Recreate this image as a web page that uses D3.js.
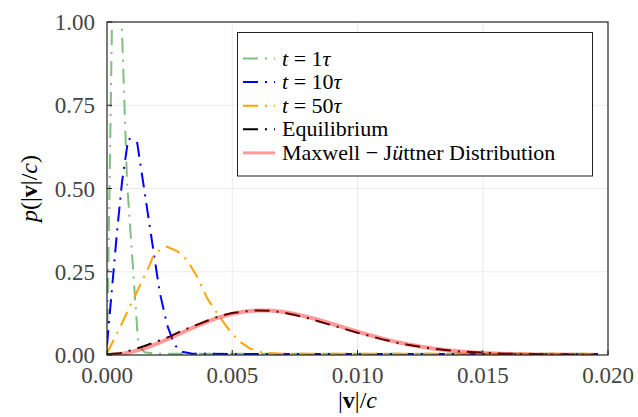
<!DOCTYPE html>
<meta charset="utf-8">
<style>
body { margin: 0; background: #fff; }
.tick-label { fill: #444; font-size: 23px; }
.grid { stroke: #ebebeb; stroke-width: 1; }
</style>
<body>
<script src="https://d3js.org/d3.v7.min.js"></script>
<script>

// ---- data ----
var xTicks = [0, 0.005, 0.010, 0.015, 0.020];
var yTicks = [0, 0.25, 0.50, 0.75, 1.00];

// t = 1 tau
var vGreen = [0, 0.0003, 0.0006, 0.0008, 0.00125, 0.0015, 0.002, 0.004, 0.006, 0.008, 0.010, 0.012, 0.014, 0.016, 0.018, 0.0196];
var pGreen = [0, 1.5, 0.97, 0.52, 0.03, 0.008, 0.004, 0.004, 0.004, 0.004, 0.004, 0.004, 0.004, 0.004, 0.004, 0.004];

// t = 10 tau
var vBlue = [0, 0.0004, 0.0006, 0.00085, 0.0012, 0.0015, 0.0018, 0.0021, 0.0024, 0.0027, 0.003, 0.0034, 0.005, 0.007, 0.009, 0.011, 0.013, 0.015, 0.017, 0.0196];
var pBlue = [0.03, 0.37, 0.52, 0.65, 0.64, 0.49, 0.34, 0.19, 0.09, 0.03, 0.01, 0.004, 0.003, 0.003, 0.003, 0.003, 0.003, 0.003, 0.003, 0.003];

// t = 50 tau
var vOrange = [0, 0.0005, 0.0011, 0.0017, 0.0019, 0.0024, 0.0028, 0.0032, 0.0036, 0.004, 0.0044, 0.0049, 0.0053, 0.0057, 0.0062, 0.007, 0.009, 0.011, 0.013, 0.015, 0.017, 0.0196];
var pOrange = [0.005, 0.08, 0.175, 0.27, 0.307, 0.325, 0.312, 0.285, 0.235, 0.17, 0.125, 0.072, 0.04, 0.02, 0.007, 0.004, 0.004, 0.004, 0.004, 0.004, 0.004, 0.004];

// equilibrium and Maxwell-Juttner share one velocity grid
var vEq = [0, 0.0005, 0.001, 0.0015, 0.002, 0.0025, 0.003, 0.0035, 0.004, 0.0045,
           0.005, 0.0055, 0.006, 0.0065, 0.007, 0.0075, 0.008, 0.0085, 0.009, 0.0095,
           0.010, 0.0105, 0.011, 0.0115, 0.012, 0.0125, 0.013, 0.0135, 0.014, 0.0145,
           0.015, 0.0155, 0.016, 0.0165, 0.017, 0.0175, 0.018, 0.0185, 0.019, 0.0195];
var pEq = [0.002, 0.005, 0.015, 0.027, 0.041, 0.055, 0.073, 0.088, 0.103, 0.117,
           0.126, 0.131, 0.134, 0.133, 0.128, 0.120, 0.111, 0.100, 0.089, 0.078,
           0.067, 0.057, 0.047, 0.038, 0.031, 0.025, 0.019, 0.015, 0.011, 0.009,
           0.007, 0.005, 0.004, 0.003, 0.0025, 0.002, 0.0015, 0.001, 0.001, 0.001];
var pMJ = [0, 0.0024, 0.0093, 0.0202, 0.0342, 0.0504, 0.0676, 0.0845, 0.1001, 0.1134,
           0.1237, 0.1306, 0.1338, 0.1334, 0.1298, 0.1233, 0.1146, 0.1044, 0.0931, 0.0815,
           0.0701, 0.0592, 0.0491, 0.0400, 0.0321, 0.0253, 0.0196, 0.0150, 0.0113, 0.0083,
           0.0061, 0.0044, 0.0031, 0.0021, 0.0015, 0.0010, 0.0007, 0.0004, 0.0003, 0.0002];

// pick the first serif face that is really installed (checked by width)
var fontList = ["Liberation Serif", "Times New Roman", "Tinos", "Nimbus Roman", "DejaVu Serif", "Noto Serif", "FreeSerif"];
var ctx = document.createElement("canvas").getContext("2d");
function widthWith(f) { ctx.font = "40px " + f; return ctx.measureText("Equilibrium 0.0125 Wmil").width; }
var serifFace = "serif";
for (var i = 0; i < fontList.length; i++) {
  var f = '"' + fontList[i] + '"';
  if (widthWith(f + ", monospace") !== widthWith("monospace") ||
      widthWith(f + ", sans-serif") !== widthWith("sans-serif")) { serifFace = f + ", serif"; break; }
}

// ---- layout ----
var W = 638, H = 417;
var L = 107, R = 608, T = 22, B = 355;

var x = d3.scaleLinear().domain([0, 0.020]).range([L, R]);
var y = d3.scaleLinear().domain([0, 1]).range([B, T]);

var svg = d3.select("body").append("svg")
    .attr("width", W)
    .attr("height", H)
    .style("font-family", serifFace);

svg.append("rect").attr("width", W).attr("height", H).attr("fill", "#fff");

svg.append("clipPath").attr("id", "plotclip")
  .append("rect")
    .attr("x", L).attr("y", T)
    .attr("width", R - L).attr("height", B - T);

// grid
svg.append("g").selectAll("line")
    .data(xTicks.slice(1, -1))
  .enter().append("line")
    .attr("class", "grid")
    .attr("x1", function(d) { return x(d); })
    .attr("x2", function(d) { return x(d); })
    .attr("y1", T).attr("y2", B);
svg.append("g").selectAll("line")
    .data(yTicks.slice(1, -1))
  .enter().append("line")
    .attr("class", "grid")
    .attr("y1", function(d) { return y(d); })
    .attr("y2", function(d) { return y(d); })
    .attr("x1", L).attr("x2", R);

// series
var dashDot = "15,7,2,7";
var series = [
  {v: vGreen,  p: pGreen,  color: "rgba(0,128,0,0.5)", width: 2, dash: dashDot},
  {v: vBlue,   p: pBlue,   color: "#0000ff",           width: 2, dash: dashDot},
  {v: vOrange, p: pOrange, color: "#ffa500",           width: 2, dash: dashDot},
  {v: vEq,     p: pEq,     color: "#000",              width: 2, dash: dashDot},
  {v: vEq,     p: pMJ,     color: "rgba(255,0,0,0.4)", width: 4, dash: null}
];

var line = d3.line()
    .x(function(d) { return x(d[0]); })
    .y(function(d) { return y(d[1]); });

var plot = svg.append("g").attr("clip-path", "url(#plotclip)");
series.forEach(function(s) {
  plot.append("path")
      .datum(d3.zip(s.v, s.p))
      .attr("d", line)
      .attr("fill", "none")
      .attr("stroke", s.color)
      .attr("stroke-width", s.width)
      .attr("stroke-dasharray", s.dash)
      .attr("stroke-linejoin", "round");
});

// frame
svg.append("rect")
    .attr("x", L).attr("y", T)
    .attr("width", R - L).attr("height", B - T)
    .attr("fill", "none")
    .attr("stroke", "#222")
    .attr("stroke-width", 1.2);

// inward ticks
svg.append("g").selectAll("line")
    .data(yTicks)
  .enter().append("line")
    .attr("x1", L).attr("x2", L + 5)
    .attr("y1", function(d) { return y(d); })
    .attr("y2", function(d) { return y(d); })
    .attr("stroke", "#222");
svg.append("g").selectAll("line")
    .data(xTicks)
  .enter().append("line")
    .attr("y1", B).attr("y2", B - 5)
    .attr("x1", function(d) { return x(d); })
    .attr("x2", function(d) { return x(d); })
    .attr("stroke", "#222");

// tick labels
svg.append("g").selectAll("text")
    .data(yTicks)
  .enter().append("text")
    .attr("class", "tick-label")
    .attr("x", 95)
    .attr("y", function(d) { return y(d); })
    .attr("dy", "0.35em")
    .attr("text-anchor", "end")
    .text(function(d) { return d3.format(".2f")(d); });
svg.append("g").selectAll("text")
    .data(xTicks)
  .enter().append("text")
    .attr("class", "tick-label")
    .attr("x", function(d) { return x(d); })
    .attr("y", 383)
    .attr("text-anchor", "middle")
    .text(function(d) { return d3.format(".3f")(d); });

// axis titles
var xl = svg.append("text")
    .attr("x", x(0.010)).attr("y", 408)
    .attr("text-anchor", "middle")
    .attr("font-size", 24);
xl.append("tspan").text("|");
xl.append("tspan").attr("font-weight", "bold").text("v");
xl.append("tspan").text("|/");
xl.append("tspan").attr("font-style", "italic").text("c");

var yl = svg.append("text")
    .attr("transform", "translate(37," + ((T + B) / 2) + ") rotate(-90)")
    .attr("text-anchor", "middle")
    .attr("font-size", 24);
yl.append("tspan").attr("font-style", "italic").text("p");
yl.append("tspan").text("(|");
yl.append("tspan").attr("font-weight", "bold").text("v");
yl.append("tspan").text("|/");
yl.append("tspan").attr("font-style", "italic").text("c");
yl.append("tspan").text(")");

// legend
var lg = svg.append("g");
lg.append("rect")
    .attr("x", 237.5).attr("y", 32.5)
    .attr("width", 355).attr("height", 143.5)
    .attr("fill", "#fff")
    .attr("stroke", "#222")
    .attr("stroke-width", 1);

var legendRows = [
  [["t", "i"], [" = 1", ""], ["τ", "i"]],
  [["t", "i"], [" = 10", ""], ["τ", "i"]],
  [["t", "i"], [" = 50", ""], ["τ", "i"]],
  [["Equilibrium", ""]],
  [["Maxwell − J", ""], ["ü", "i"], ["ttner Distribution", ""]]
];

series.forEach(function(s, i) {
  var cy = 58.5 + i * 23.6;
  lg.append("line")
      .attr("x1", 243).attr("x2", 275)
      .attr("y1", cy).attr("y2", cy)
      .attr("stroke", s.color)
      .attr("stroke-width", s.width === 4 ? 3 : 2)
      .attr("stroke-dasharray", s.dash);
  var t = lg.append("text")
      .attr("x", 282).attr("y", cy + 7)
      .attr("font-size", 22);
  legendRows[i].forEach(function(part) {
    t.append("tspan")
        .attr("font-style", part[1] === "i" ? "italic" : null)
        .text(part[0]);
  });
});

</script>
</body>
